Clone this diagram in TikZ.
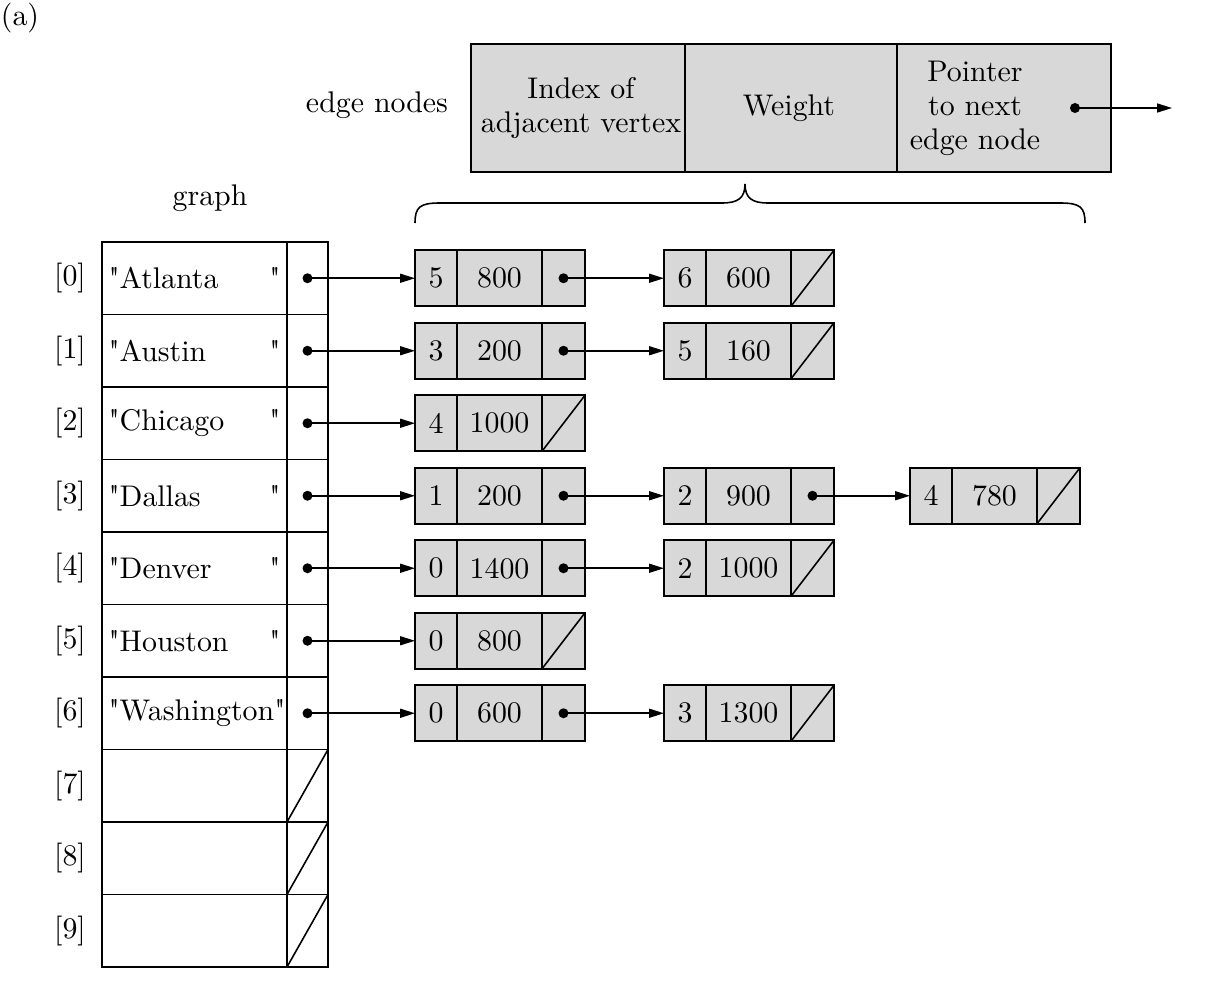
\documentclass[tikz,border=0pt]{standalone}
\usepackage{fontspec}
\setmainfont{lmroman10-regular.otf}[Ligatures=TeXOff]
\usetikzlibrary{arrows.meta}
\definecolor{cellgray}{RGB}{216,216,216}
\newcommand\edgenode[5]{%
 \node[ecell,minimum width=0.84cm] (#1i) at ({#2+21},{278.25+72.5*#3}) {#4};
 \node[ecell,minimum width=1.7cm] (#1w) at ({#2+84.5},{278.25+72.5*#3}) {#5};
 \node[ecell,minimum width=0.86cm] (#1p) at ({#2+148.5},{278.25+72.5*#3}) {};
}
\begin{document}
\begin{tikzpicture}[x=0.02cm,y=-0.02cm,
  every node/.style={font=\fontsize{17}{19.3}\selectfont},
  ecell/.style={draw,line width=1.1pt,inner sep=0,outer sep=0,minimum height=1.12cm,fill=cellgray},
  gcell/.style={draw,line width=1.1pt,inner sep=0,outer sep=0,minimum height=1.45cm},
  hcell/.style={draw,line width=1.1pt,inner sep=0,outer sep=0,minimum height=2.56cm,fill=cellgray,align=center},
  dot/.style={circle,fill,inner sep=0,minimum size=0.2cm},
  link/.style={line width=0.9pt,-{Triangle[length=0.3cm,width=0.18cm]}},
  nullp/.style={line width=0.9pt}]
\useasboundingbox (0,0) rectangle (1213,1000);

% title and labels
\node (lbla) at (20,18) {(a)};
\node (lbledge) at (377,105) {edge nodes};
\node (lblgraph) at (210,198) {graph};

% header edge node
\node[hcell,minimum width=4.28cm] (h1) at (578,108) {};
\node[hcell,minimum width=4.24cm] (h2) at (791,108) {};
\node[hcell,minimum width=4.28cm] (h3) at (1004,108) {};
\node[align=center] (h1t) at (581,108) {Index of\\adjacent vertex};
\node[align=center] (h2t) at (789,108) {Weight};
\node[align=center] (h3t) at (975,108) {Pointer\\to next\\edge node};
\node[dot] (hd) at (1075,108) {};
\coordinate (hend) at (1172,108);
\draw[link] (hd.center) -- (hend);

% brace
\draw[line width=0.9pt] (415,223) .. controls (415,207) and (420,203) .. (440,203)
  -- (722,203) .. controls (738,203) and (745,198) .. (745,184)
  .. controls (745,198) and (752,203) .. (768,203)
  -- (1060,203) .. controls (1080,203) and (1085,207) .. (1085,223);

% graph table
\foreach \i/\nm in {0/Atlanta,1/Austin,2/Chicago,3/Dallas,4/Denver,5/Houston}{
  \node[gcell,minimum width=3.7cm,text width=3.44cm] (gn\i) at (194.5,{278.25+72.5*\i}) {"\nm\hfill"};
}
\node[gcell,minimum width=3.7cm,text width=3.44cm] (gn6) at (194.5,{278.25+72.5*6}) {"Washington"};
\foreach \i in {7,8,9}{
  \node[gcell,minimum width=3.7cm] (gn\i) at (194.5,{278.25+72.5*\i}) {};
}
\foreach \i in {0,...,9}{
  \node[gcell,minimum width=0.82cm] (gp\i) at (307.5,{278.25+72.5*\i}) {};
  \node (idx\i) at (70,{278.25+72.5*\i}) {[\i]};
}
\foreach \i in {7,8,9}{
  \draw[nullp] (gp\i.south west) -- (gp\i.north east);
}

% edge nodes
\edgenode{ra}{415}{0}{5}{800}
\edgenode{rb}{664}{0}{6}{600}
\edgenode{sa}{415}{1}{3}{200}
\edgenode{sb}{664}{1}{5}{160}
\edgenode{ta}{415}{2}{4}{1000}
\edgenode{ua}{415}{3}{1}{200}
\edgenode{ub}{664}{3}{2}{900}
\edgenode{uc}{910}{3}{4}{780}
\edgenode{va}{415}{4}{0}{1400}
\edgenode{vb}{664}{4}{2}{1000}
\edgenode{wa}{415}{5}{0}{800}
\edgenode{xa}{415}{6}{0}{600}
\edgenode{xb}{664}{6}{3}{1300}

% null pointers
\foreach \n in {rb,sb,ta,uc,vb,wa,xb}{
  \draw[nullp] (\n p.south west) -- (\n p.north east);
}

% graph pointers
\foreach \i/\t in {0/ra,1/sa,2/ta,3/ua,4/va,5/wa,6/xa}{
  \node[dot] (gd\i) at (gp\i.center) {};
  \draw[link] (gd\i.center) -- (\t i.west);
}

% edge-to-edge pointers
\foreach \s/\t in {ra/rb,sa/sb,ua/ub,ub/uc,va/vb,xa/xb}{
  \node[dot] (\s d) at (\s p.center) {};
  \draw[link] (\s d.center) -- (\t i.west);
}
\end{tikzpicture}
\end{document}
